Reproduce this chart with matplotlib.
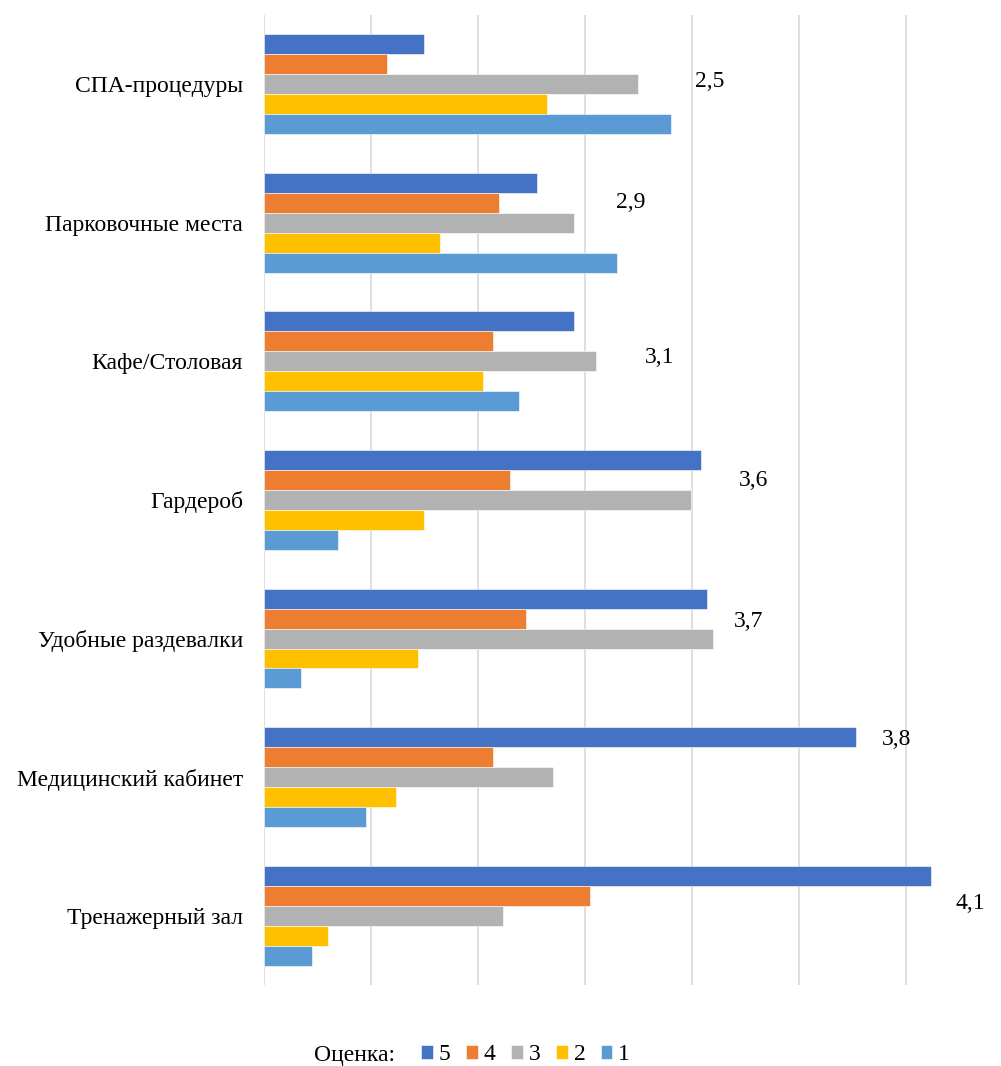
import matplotlib.pyplot as plt
import numpy as np

plt.rcParams['font.family'] = ['Liberation Serif', 'DejaVu Serif']

categories = ['СПА-процедуры', 'Парковочные места', 'Кафе/Столовая', 'Гардероб',
              'Удобные раздевалки', 'Медицинский кабинет', 'Тренажерный зал']
scores = ['5', '4', '3', '2', '1']

# share of answers (%) for each score, categories top to bottom
score5 = [12.0, 20.4, 23.2, 32.7, 33.1, 44.3, 49.9]
score4 = [9.2, 17.6, 17.1, 18.4, 19.6, 17.1, 24.4]
score3 = [28.0, 23.2, 24.8, 31.9, 33.6, 21.6, 17.9]
score2 = [21.2, 13.2, 16.4, 12.0, 11.5, 9.9, 4.8]
score1 = [30.4, 26.4, 19.1, 5.5, 2.8, 7.6, 3.6]
avg_score = ['2,5', '2,9', '3,1', '3,6', '3,7', '3,8', '4,1']

series = [score5, score4, score3, score2, score1]
colors = ['#4472C4', '#ED7D31', '#B2B2B2', '#FFC000', '#5B9BD5']

fig = plt.figure(figsize=(10.01, 10.66), dpi=100)
ax = fig.add_axes([0.2637, 0.076, 0.668, 0.910])

y = np.arange(len(categories))
h = 0.144
for j, (vals, col, lab) in enumerate(zip(series, colors, scores)):
    ax.barh(y + (j - 2) * h, vals, height=h, color=col, label=lab,
            edgecolor='white', linewidth=0.4, zorder=3)

# average score next to each group
lab_x = [33.3, 27.4, 29.6, 36.6, 36.2, 47.3, 52.8]
lab_dy = [-0.02, -0.15, -0.03, -0.14, -0.12, -0.27, -0.09]
for i, s in enumerate(avg_score):
    ax.text(lab_x[i], y[i] + lab_dy[i], s, ha='center', va='center',
            fontsize=17, clip_on=False)

ax.set_xlim(0, 50)
ax.set_ylim(-0.5, len(categories) - 0.5)
ax.invert_yaxis()
ax.set_xticks(np.arange(0, 49, 8))
ax.set_xticklabels([])
ax.set_yticks(y)
ax.set_yticklabels(categories, fontsize=17)
ax.tick_params(length=0, pad=15)
ax.grid(axis='x', color='#D9D9D9', linewidth=1.2, zorder=0)
for sp in ax.spines.values():
    sp.set_visible(False)

fig.text(314 / 1001, 1 - 1055 / 1066, 'Оценка:', fontsize=17, va='center')
fig.legend(loc='center left', bbox_to_anchor=(400 / 1001, 1 - 1055 / 1066),
           ncol=5, frameon=False, fontsize=17, handlelength=0.5,
           handleheight=0.5, handletextpad=0.25, columnspacing=0.65)

plt.savefig('out.png', dpi=100)
